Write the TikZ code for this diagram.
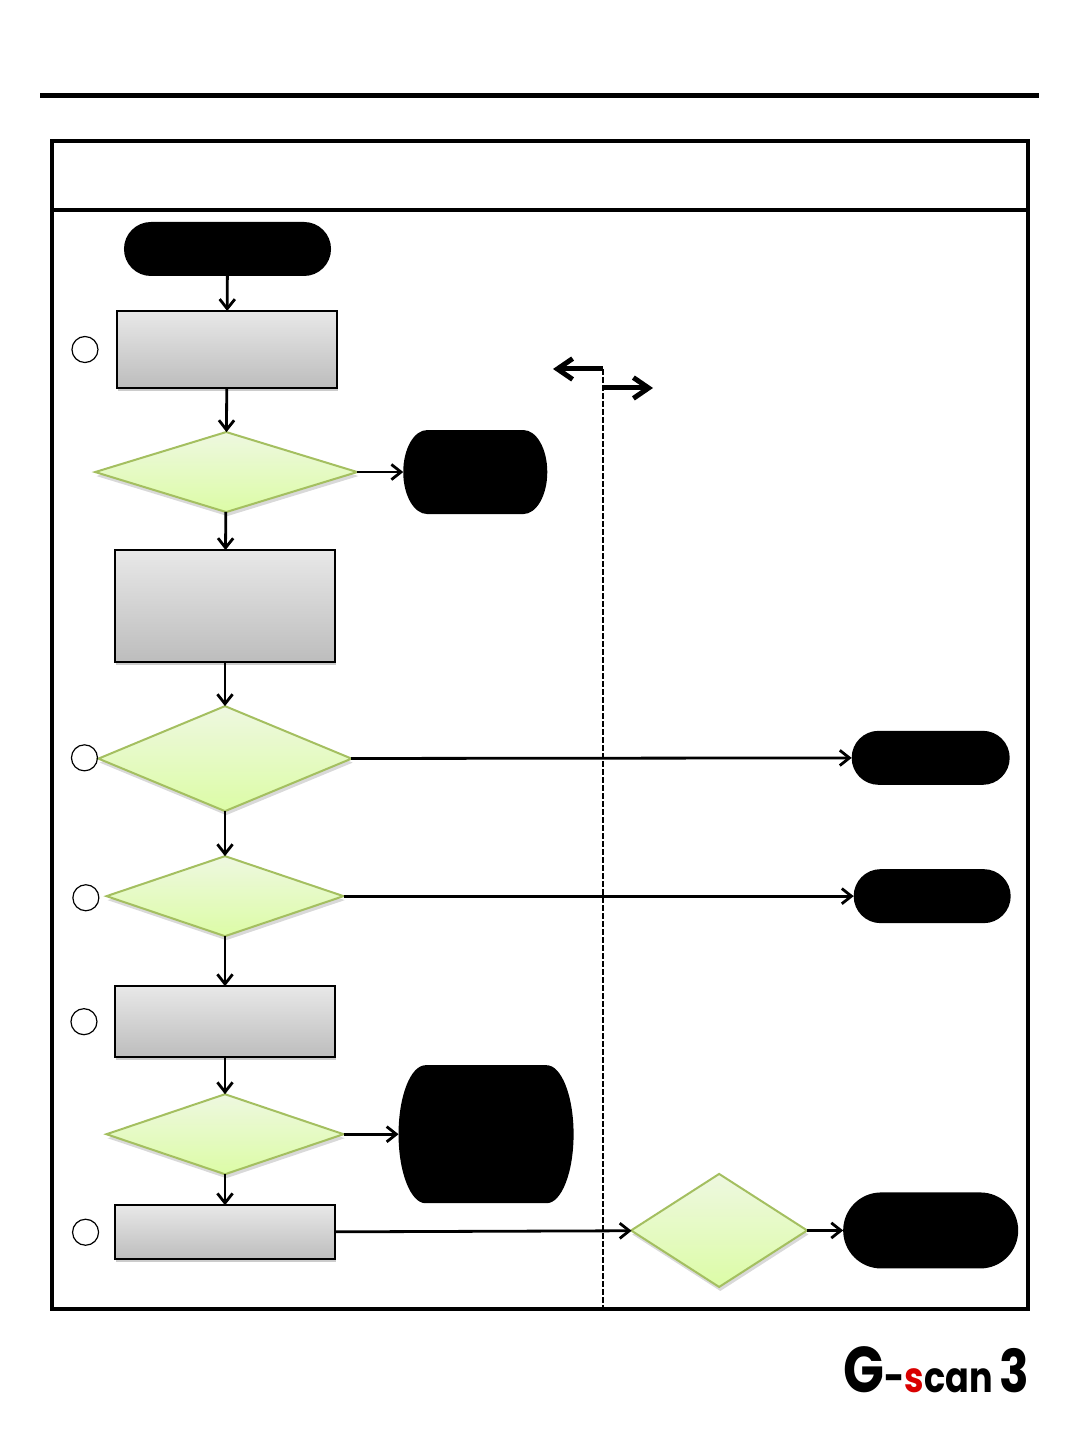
\documentclass[tikz,border=0pt]{standalone}
\usepackage{fontspec}
\newfontfamily\logofont{Poppins}[BoldFont=* Bold]
\usetikzlibrary{arrows.meta,positioning,calc,shapes.geometric,shadows}

\begin{document}
\begin{tikzpicture}[
  x=0.025cm, y=0.025cm,
  every node/.style={inner sep=0pt, outer sep=0pt},
  box/.style={rectangle, draw=black, line width=0.05cm, minimum width=5.5cm, top color=gray!18, bottom color=gray!52,
    drop shadow={shadow xshift=0.03cm, shadow yshift=-0.08cm, opacity=0.4}},
  decision/.style={diamond, draw=leafline, line width=0.05cm, top color=leaftop, bottom color=leafbot,
    drop shadow={shadow xshift=0.03cm, shadow yshift=-0.1cm, opacity=0.3}},
  terminal/.style={rectangle, minimum height=1.35cm},
  tag/.style={circle, draw, line width=0.03cm, minimum size=0.65cm},
  arrow/.style={-{Straight Barb[length=0.24cm, width=0.38cm]}, line width=0.07cm},
  bigarrow/.style={-{Straight Barb[length=0.38cm, width=0.52cm]}, line width=0.125cm},
  split/.style={dashed, dash pattern=on 0.14cm off 0.06cm, line width=0.05cm},
  heavy/.style={line width=0.125cm}
]
  \definecolor{leaftop}{HTML}{EEF8E0}
  \definecolor{leafbot}{HTML}{DCFCA6}
  \definecolor{leafline}{HTML}{A4BF60}
  \useasboundingbox (0,0) rectangle (1080,1440);

  % Page frame
  \coordinate (rulel) at (40,1344);
  \coordinate (ruler) at (1039,1344);
  \node[draw, line width=0.1cm, minimum width=24.4cm, minimum height=29.2cm] (frame) at (540,715) {};
  \coordinate (rowl) at (52,1230);
  \coordinate (rowr) at (1028,1230);
  \draw[heavy] (rulel) -- (ruler);
  \draw[line width=0.09cm] (rowl) -- (rowr);

  % Left column
  \node[terminal, minimum width=5.175cm] (start) at (227.5,1191) {};
  \node[box, minimum height=1.925cm, below=0.875cm of start, xshift=-0.0125cm] (check) {};
  \node[decision, minimum width=6.55cm, minimum height=2cm, below=1.1cm of check, xshift=-0.02cm] (first) {};
  \node[box, minimum height=2.8cm, below=0.95cm of first, xshift=-0.03cm] (read) {};
  \node[decision, minimum width=6.325cm, minimum height=2.625cm, below=1.1cm of read] (second) {};
  \node[decision, minimum width=5.925cm, minimum height=2cm, below=1.125cm of second] (third) {};
  \node[box, minimum height=1.775cm, below=1.25cm of third] (test) {};
  \node[decision, minimum width=5.925cm, minimum height=2cm, below=0.925cm of test] (fourth) {};
  \node[box, minimum height=1.35cm, below=0.775cm of fourth] (last) {};

  % Circles
  \node[tag, left=0.475cm of check] (tagA) {};
  \node[tag, left=0.025cm of second, yshift=0.02cm] (tagB) {};
  \node[tag, left=0.19cm of third, yshift=-0.04cm] (tagC) {};
  \node[tag, left=0.45cm of test] (tagD) {};
  \node[tag, left=0.41cm of last] (tagE) {};

  % Right side
  \node[terminal, minimum width=3.6cm, minimum height=2.1cm, right=1.15cm of first] (endA) {};
  \node[terminal, minimum width=3.95cm, right=12.5cm of second, yshift=0.02cm] (endB) {};
  \node[terminal, minimum width=3.925cm, right=12.75cm of third] (endC) {};
  \node[terminal, minimum width=4.375cm, minimum height=3.45cm, right=1.375cm of fourth] (endD) {};
  \node[decision, minimum width=4.4cm, minimum height=2.825cm, right=7.4cm of last, yshift=0.045cm] (fifth) {};
  \node[terminal, minimum width=4.375cm, minimum height=1.9cm, right=0.9cm of fifth] (endE) {};

  % Black ends
  \foreach \nm/\rx in {start/27, endA/24, endB/27, endC/27, endD/27, endE/38}
    \fill let \p1=($(\nm.north)-(\nm.south)$) in
      (\nm.west) arc[start angle=180, end angle=90, x radius=\rx*0.025cm, y radius=\y1/2]
      -- ($(\nm.north east)+(-\rx,0)$) arc[start angle=90, end angle=0, x radius=\rx*0.025cm, y radius=\y1/2]
      arc[start angle=0, end angle=-90, x radius=\rx*0.025cm, y radius=\y1/2]
      -- ($(\nm.south west)+(\rx,0)$) arc[start angle=-90, end angle=-180, x radius=\rx*0.025cm, y radius=\y1/2] -- cycle;

  \draw[arrow] (start) -- (check);
  \draw[arrow] (check) -- (first);
  \draw[arrow] (first) -- (read);
  \draw[arrow] (first) -- (endA);
  \draw[arrow] (read) -- (second);
  \draw[arrow] (second) -- (third);
  \draw[arrow] (second) -- (endB);
  \draw[arrow] (third) -- (test);
  \draw[arrow] (third) -- (endC);
  \draw[arrow] (test) -- (fourth);
  \draw[arrow] (fourth) -- (last);
  \draw[arrow] (fourth) -- (endD);
  \draw[arrow] (last) -- (fifth);
  \draw[arrow] (fifth) -- (endE);

  % Divider
  \coordinate (splittop) at (602.5,1071);
  \coordinate (splitbot) at (602.5,132);
  \coordinate (splitmid) at (602.5,1052);
  \coordinate (headL) at (553,1071);
  \coordinate (headR) at (653,1052);
  \draw[split] (splittop) -- (splitbot);
  \draw[bigarrow] (splittop) -- (headL);
  \draw[bigarrow] (splitmid) -- (headR);

  % Logo
  \node[font=\logofont\bfseries, anchor=base east, xscale=0.83, transform shape] (logo) at (1029,48)
    {\fontsize{46}{46}\selectfont G\fontsize{30}{30}\selectfont -{\color{red!85!black}s}can\hspace{0.2cm}\fontsize{42}{42}\selectfont 3};
\end{tikzpicture}
\end{document}
